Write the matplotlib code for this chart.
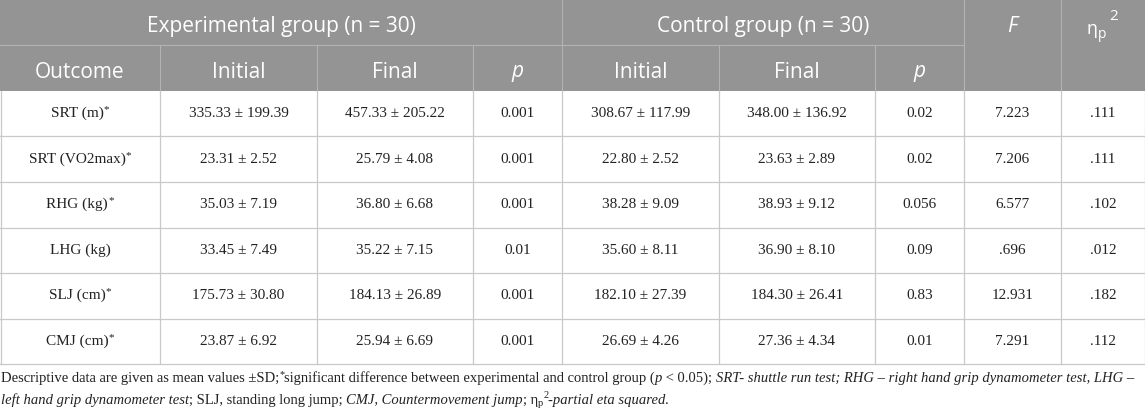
import matplotlib
matplotlib.use("Agg")
import matplotlib.pyplot as plt

# table data
outcomes = ["SRT (m)", "SRT (VO2max)", "RHG (kg)", "LHG (kg)", "SLJ (cm)", "CMJ (cm)"]
starred = [True, True, True, False, True, True]
exp_init_mean = [335.33, 23.31, 35.03, 33.45, 175.73, 23.87]
exp_init_sd = [199.39, 2.52, 7.19, 7.49, 30.80, 6.92]
exp_final_mean = [457.33, 25.79, 36.80, 35.22, 184.13, 25.94]
exp_final_sd = [205.22, 4.08, 6.68, 7.15, 26.89, 6.69]
exp_p = ["0.001", "0.001", "0.001", "0.01", "0.001", "0.001"]
ctl_init_mean = [308.67, 22.80, 38.28, 35.60, 182.10, 26.69]
ctl_init_sd = [117.99, 2.52, 9.09, 8.11, 27.39, 4.26]
ctl_final_mean = [348.00, 23.63, 38.93, 36.90, 184.30, 27.36]
ctl_final_sd = [136.92, 2.89, 9.12, 8.10, 26.41, 4.34]
ctl_p = ["0.02", "0.02", "0.056", "0.09", "0.83", "0.01"]
f_vals = ["7.223", "7.206", "6.577", ".696", "12.931", "7.291"]
eta_vals = [".111", ".111", ".102", ".012", ".182", ".112"]

W, H = 1145, 415
col_x = [0, 160, 317, 473, 562, 719, 875, 964, 1061, 1145]
head1, head2 = 45, 91
row_h = 45.5
n_rows = len(outcomes)
table_bottom = head2 + row_h * n_rows

HEAD_BG = "#949494"
HEAD_LINE = "#b3b3b3"
BODY_LINE = "#c9c9c9"
SANS = "Open Sans"
SERIF = "Liberation Serif"

fig = plt.figure(figsize=(W / 100, H / 100), dpi=100)
ax = fig.add_axes([0, 0, 1, 1])
ax.set_xlim(0, W)
ax.set_ylim(H, 0)
ax.axis("off")
renderer = fig.canvas.get_renderer()


def text_width(s, **kw):
    t = ax.text(0, 0, "|" + s + "|", **kw)
    t2 = ax.text(0, 0, "||", **kw)
    w = t.get_window_extent(renderer).width - t2.get_window_extent(renderer).width
    t.remove()
    t2.remove()
    return w


def draw_runs(runs, x, y, align="left"):
    # runs: (text, kwargs, dy)
    widths = [text_width(r[0], **r[1]) for r in runs]
    if align == "center":
        x = x - sum(widths) / 2
    for (s, kw, dy), w in zip(runs, widths):
        ax.text(x, y + dy, s, ha="left", va="center", **kw)
        x += w
    return x


# header background
ax.add_patch(plt.Rectangle((0, 0), W, head2, color=HEAD_BG, lw=0))

hk = dict(family=SANS, fontsize=15, color="white")
ax.text((col_x[0] + col_x[4]) / 2, head1 / 2 + 4, "Experimental group (n = 30)", ha="center", va="center", **hk)
ax.text((col_x[4] + col_x[7]) / 2, head1 / 2 + 4, "Control group (n = 30)", ha="center", va="center", **hk)
ax.text((col_x[7] + col_x[8]) / 2, 26, "F", ha="center", va="center", style="italic", **hk)
ex = 1087
ax.text(ex, 29, "η", ha="left", va="center", family=SANS, fontsize=13, color="white")
ax.text(ex + 11, 35, "p", ha="left", va="center", family=SANS, fontsize=10, color="white")
ax.text(ex + 22, 17, "2", ha="left", va="center", family=SANS, fontsize=11, color="white")

sub_heads = ["Outcome", "Initial", "Final", "p", "Initial", "Final", "p"]
for i, s in enumerate(sub_heads):
    ax.text((col_x[i] + col_x[i + 1]) / 2, (head1 + head2) / 2 + 4, s, ha="center", va="center",
            style="italic" if s == "p" else "normal", **hk)

# header lines
ax.plot([0, col_x[7]], [head1, head1], color=HEAD_LINE, lw=0.8)
for x in [col_x[4], col_x[7], col_x[8]]:
    ax.plot([x, x], [0, head2], color=HEAD_LINE, lw=0.8)
for x in [col_x[1], col_x[2], col_x[3], col_x[5], col_x[6]]:
    ax.plot([x, x], [head1, head2], color=HEAD_LINE, lw=0.8)

# body
bk = dict(family=SERIF, fontsize=11, color="#222222")
for r in range(n_rows):
    yc = head2 + row_h * (r + 0.5)
    cells = [
        f"{exp_init_mean[r]:.2f} ± {exp_init_sd[r]:.2f}",
        f"{exp_final_mean[r]:.2f} ± {exp_final_sd[r]:.2f}",
        exp_p[r],
        f"{ctl_init_mean[r]:.2f} ± {ctl_init_sd[r]:.2f}",
        f"{ctl_final_mean[r]:.2f} ± {ctl_final_sd[r]:.2f}",
        ctl_p[r],
        f_vals[r],
        eta_vals[r],
    ]
    runs = [(outcomes[r], bk, 0)]
    if starred[r]:
        runs.append(("*", dict(bk, fontsize=8), -4))
    draw_runs(runs, (col_x[0] + col_x[1]) / 2, yc, align="center")
    for c, s in enumerate(cells):
        ax.text((col_x[c + 1] + col_x[c + 2]) / 2, yc, s, ha="center", va="center", **bk)

for r in range(1, n_rows + 1):
    y = head2 + row_h * r
    ax.plot([0, W], [y, y], color=BODY_LINE, lw=0.9)
for x in col_x:
    xx = min(max(x, 0.5), W - 0.5)
    ax.plot([xx, xx], [head2, table_bottom], color=BODY_LINE, lw=0.9)

# footnote, sized so the first line fills the width
fs = 10
up = dict(family=SERIF, fontsize=fs, color="#222222")
it = dict(up, style="italic")
probe = [
    ("Descriptive data are given as mean values ±SD;*significant difference between "
     "experimental and control group (", up),
    ("p", it),
    (" < 0.05); ", up),
    ("SRT- shuttle run test; RHG – right hand grip dynamometer test, LHG –", it),
]
scale = 1138 / sum(text_width(s, **kw) for s, kw in probe)
up["fontsize"] = fs * scale
it["fontsize"] = fs * scale
small = dict(up, fontsize=7 * scale)

line1 = [
    ("Descriptive data are given as mean values ±SD;", up, 0),
    ("*", small, -3),
    ("significant difference between experimental and control group (", up, 0),
    ("p", it, 0),
    (" < 0.05); ", up, 0),
    ("SRT- shuttle run test; RHG – right hand grip dynamometer test, LHG –", it, 0),
]
line2 = [
    ("left hand grip dynamometer test", it, 0),
    ("; SLJ, standing long jump; ", up, 0),
    ("CMJ, Countermovement jump", it, 0),
    ("; η", up, 0),
    ("p", small, 3),
    ("2", small, -5),
    ("-partial eta squared.", it, 0),
]
draw_runs(line1, 1, 378)
draw_runs(line2, 1, 400)

fig.savefig("out.png", dpi=100)
